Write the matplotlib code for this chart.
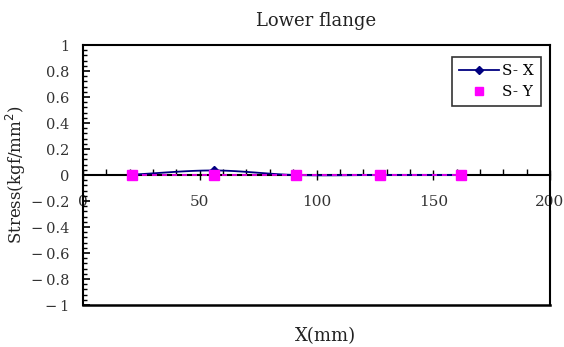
import numpy as np
import matplotlib
matplotlib.use("Agg")
import matplotlib.pyplot as plt
from matplotlib.ticker import MultipleLocator, FuncFormatter
from matplotlib.lines import Line2D

# Measured stresses along the lower flange
x_pos = [21, 56, 91, 127, 162]          # X (mm)
stress_sx = [0.003, 0.035, 0.0, 0.0, 0.0]  # S-X (kgf/mm^2)
stress_sy = [-0.002, -0.002, -0.002, -0.002, -0.002]  # S-Y (kgf/mm^2)

title = "Lower flange"
x_label = "X(mm)"
y_label = "Stress(kgf/mm$^2$)"
series_names = ["S- X", "S- Y"]


def smooth(xs, ys, n=30):
    """Cardinal (Catmull-Rom) curve through the points, as a smoothed line."""
    xs = np.asarray(xs, float)
    ys = np.asarray(ys, float)
    px = np.concatenate([[2 * xs[0] - xs[1]], xs, [2 * xs[-1] - xs[-2]]])
    py = np.concatenate([[2 * ys[0] - ys[1]], ys, [2 * ys[-1] - ys[-2]]])
    outx, outy = [], []
    t = np.linspace(0, 1, n)
    for i in range(1, len(px) - 2):
        for arr, out in ((px, outx), (py, outy)):
            p0, p1, p2, p3 = arr[i - 1], arr[i], arr[i + 1], arr[i + 2]
            seg = 0.5 * ((2 * p1) + (-p0 + p2) * t
                         + (2 * p0 - 5 * p1 + 4 * p2 - p3) * t ** 2
                         + (-p0 + 3 * p1 - 3 * p2 + p3) * t ** 3)
            out.extend(seg)
    return np.array(outx), np.array(outy)


plt.rcParams["font.family"] = ["DejaVu Serif"]

fig = plt.figure(figsize=(5.64, 3.47), dpi=100)
ax = fig.add_axes([0.1472, 0.1210, 0.8280, 0.7493])

ax.set_xlim(0, 200)
ax.set_ylim(-1, 1)

# S-X: smoothed navy line with diamond markers
sx_x, sx_y = smooth(x_pos, stress_sx)
ax.plot(sx_x, sx_y, color="#000080", lw=1.3, zorder=3)
ax.plot(x_pos, stress_sx, ls="none", marker="D", ms=4.5, color="#000080", zorder=3)

# S-Y: magenta squares joined by a dashed line
ax.plot(x_pos, stress_sy, color="#FF00FF", lw=1.2, ls=(0, (3, 3)), zorder=4)
ax.plot(x_pos, stress_sy, ls="none", marker="s", ms=7, color="#FF00FF", zorder=5)

# Frame: x axis runs through zero, box closed at the bottom
for side in ("left", "right", "top", "bottom"):
    ax.spines[side].set_linewidth(1.5)
    ax.spines[side].set_color("black")
ax.spines["bottom"].set_position(("data", 0))
ax.axhline(-1, color="black", lw=1.8, clip_on=False, zorder=6)

ax.xaxis.set_major_locator(MultipleLocator(50))
ax.xaxis.set_minor_locator(MultipleLocator(10))
ax.yaxis.set_major_locator(MultipleLocator(0.2))
ax.yaxis.set_minor_locator(MultipleLocator(0.04))


def y_fmt(v, _):
    if abs(v) < 1e-9:
        return "0"
    s = f"{abs(v):.1f}".rstrip("0").rstrip(".")
    return ("\u2212\u2009" + s) if v < 0 else s


ax.yaxis.set_major_formatter(FuncFormatter(y_fmt))
ax.xaxis.set_major_formatter(FuncFormatter(lambda v, _: f"{int(v)}"))

ax.tick_params(axis="y", which="major", direction="in", length=5, width=1.2,
               labelsize=10.5, labelcolor="#333333", pad=10)
ax.tick_params(axis="y", which="minor", direction="in", length=3, width=1.0)
ax.tick_params(axis="x", which="major", direction="inout", length=7, width=1.0,
               labelsize=11, labelcolor="#333333", pad=11)
ax.tick_params(axis="x", which="minor", direction="in", length=4, width=1.0)

ax.set_title(title, fontsize=13, color="#222222", pad=14)
ax.set_xlabel(x_label, fontsize=13, color="#222222", labelpad=6)
ax.xaxis.set_label_coords(0.52, -0.085)
ax.set_ylabel(y_label, fontsize=12, color="#222222")
ax.yaxis.set_label_coords(-0.118, 0.5)

handles = [
    Line2D([], [], color="#000080", lw=1.3, marker="D", ms=4.5),
    Line2D([], [], color="#FF00FF", ls="none", marker="s", ms=6),
]
leg = ax.legend(handles, series_names, loc="upper right",
                bbox_to_anchor=(0.98, 0.953), fontsize=11,
                frameon=True, fancybox=False, edgecolor="black",
                handlelength=2.6, borderpad=0.45, labelspacing=0.45,
                handletextpad=0.2, borderaxespad=0.0)
leg.get_frame().set_linewidth(1.2)

fig.savefig("out.png", dpi=100)
